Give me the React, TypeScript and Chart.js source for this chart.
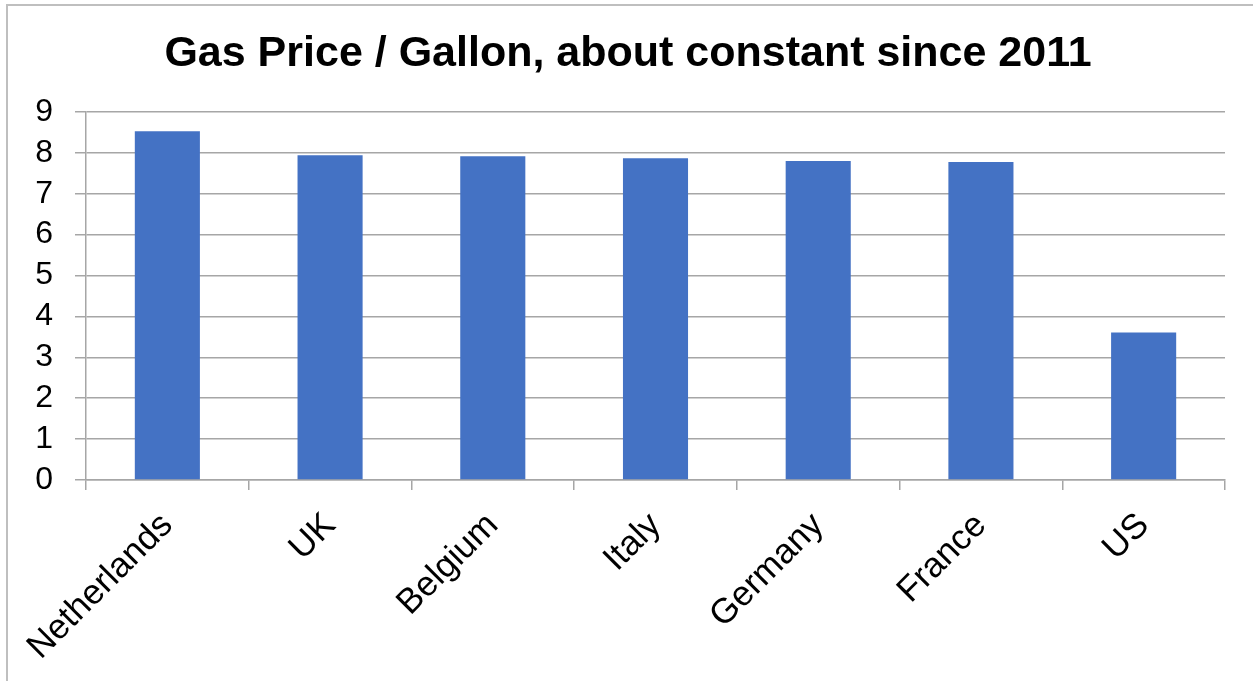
import React, { useEffect, useRef } from "react";
import { Chart, registerables } from "chart.js";

Chart.register(...registerables);

const categories = ["Netherlands", "UK", "Belgium", "Italy", "Germany", "France", "US"];
const prices = [8.53, 7.94, 7.92, 7.87, 7.8, 7.78, 3.61];
const yTicks = [0, 1, 2, 3, 4, 5, 6, 7, 8, 9];
const titleText = "Gas Price / Gallon, about constant since 2011";

const FONT = "'Liberation Sans', Arial, sans-serif";
const GRID = "#a6a6a6";

const frame = {
  id: "frame",
  beforeDraw(chart: any) {
    const ctx = chart.ctx;
    ctx.save();
    ctx.fillStyle = "#ffffff";
    ctx.fillRect(0, 0, chart.width, chart.height);
    ctx.strokeStyle = "#bfbfbf";
    ctx.lineWidth = 2;
    ctx.beginPath();
    ctx.moveTo(7, chart.height + 5);
    ctx.lineTo(7, 5);
    ctx.lineTo(chart.width + 5, 5);
    ctx.stroke();
    ctx.fillStyle = "#000000";
    ctx.font = "bold 43px " + FONT;
    ctx.textAlign = "center";
    ctx.textBaseline = "alphabetic";
    ctx.fillText(titleText, 628, 66);
    ctx.restore();
  },
};

export default function App() {
  const ref = useRef<HTMLCanvasElement | null>(null);
  useEffect(() => {
    if (!ref.current) return;
    const chart = new Chart(ref.current, {
      type: "bar",
      data: {
        labels: categories,
        datasets: [
          {
            data: prices,
            backgroundColor: "#4472C4",
            categoryPercentage: 1,
            barPercentage: 0.4,
          },
        ],
      },
      plugins: [frame],
      options: {
        animation: false,
        responsive: false,
        layout: { padding: { left: 0, right: 28, top: 112, bottom: 0 } },
        plugins: {
          legend: { display: false },
          tooltip: { enabled: false },
          title: { display: false },
        },
        scales: {
          x: {
            offset: true,
            grid: {
              display: true,
              drawOnChartArea: false,
              drawTicks: true,
              tickLength: 10,
              offset: true,
              color: GRID,
              lineWidth: 1.5,
            },
            border: { display: true, color: GRID, width: 1.5 },
            ticks: {
              color: "#000000",
              font: { family: FONT, size: 35 },
              maxRotation: 45,
              minRotation: 45,
              padding: 15,
              autoSkip: false,
            },
            afterFit(scale: any) {
              scale.height = 201;
            },
          },
          y: {
            min: 0,
            max: 9,
            afterBuildTicks(scale: any) {
              scale.ticks = yTicks.map((v) => ({ value: v }));
            },
            grid: {
              color: GRID,
              lineWidth: 1.5,
              tickLength: 11,
            },
            border: { display: true, color: GRID, width: 1.5 },
            ticks: {
              color: "#000000",
              font: { family: FONT, size: 32 },
              padding: 22,
              autoSkip: false,
            },
            afterFit(scale: any) {
              scale.width = 86;
            },
          },
        },
      },
    });
    return () => chart.destroy();
  }, []);
  return (
    <div style={{ position: "fixed", left: 0, top: 0, width: 1253, height: 681, background: "#fff" }}>
      <canvas ref={ref} width={1253} height={681} style={{ display: "block" }} />
    </div>
  );
}
